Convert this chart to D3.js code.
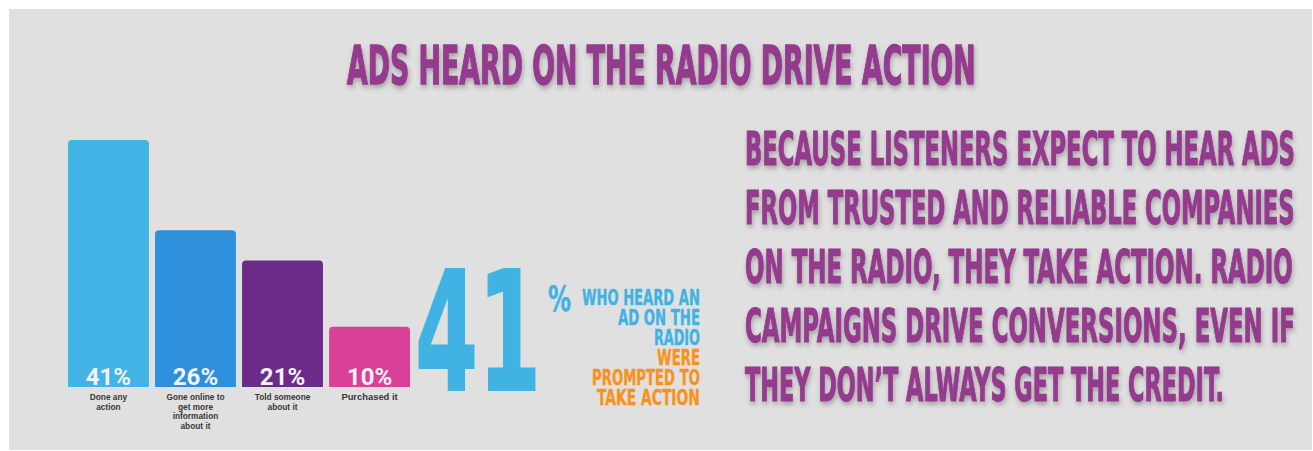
<!DOCTYPE html>
<html>
<head>
<meta charset="utf-8">
<script src="https://cdn.jsdelivr.net/npm/d3@7"></script>
<style>
  html, body { margin: 0; padding: 0; background: #ffffff; }
  svg { display: block; }
</style>
</head>
<body>
<div id="chart"></div>
<script>
// Share of radio listeners who acted after hearing an ad
const categories = ["Done any action", "Gone online to get more information about it", "Told someone about it", "Purchased it"];
const categoryLines = [["Done any", "action"], ["Gone online to", "get more", "information", "about it"], ["Told someone", "about it"], ["Purchased it"]];
const values = [41, 26, 21, 10];
const valueLabels = ["41%", "26%", "21%", "10%"];
const barColors = ["#42b4e5", "#2e90dc", "#6a2c88", "#d94198"];

const title = "ADS HEARD ON THE RADIO DRIVE ACTION";
const bodyLines = [
  "BECAUSE LISTENERS EXPECT TO HEAR ADS",
  "FROM TRUSTED AND RELIABLE COMPANIES",
  "ON THE RADIO, THEY TAKE ACTION. RADIO",
  "CAMPAIGNS DRIVE CONVERSIONS, EVEN IF",
  "THEY DON\u2019T ALWAYS GET THE CREDIT."
];
const bodyWidths = [550, 550, 548, 550, 479];
const headline = "41";
const calloutBlue = ["WHO HEARD AN", "AD ON THE", "RADIO"];
const calloutOrange = ["WERE", "PROMPTED TO", "TAKE ACTION"];
const calloutWidths = [118, 82, 46, 43, 108, 103];

const W = 1313, H = 451;
const purple = "#943a8e";
const condensed = "'Liberation Sans Narrow', 'DejaVu Sans Condensed', sans-serif";

const svg = d3.select("#chart").append("svg")
  .attr("width", W).attr("height", H);

const defs = svg.append("defs");
const shadow = defs.append("filter").attr("id", "soft-shadow")
  .attr("filterUnits", "userSpaceOnUse")
  .attr("x", 0).attr("y", 0).attr("width", W).attr("height", H);
shadow.append("feDropShadow")
  .attr("dx", 1).attr("dy", 3).attr("stdDeviation", 2.5)
  .attr("flood-color", "#000").attr("flood-opacity", 0.28);

// Draws a condensed line of text squeezed horizontally to a given width
function fitText(parent, str, left, baseline, width, size, color, strokeW) {
  const g = parent.append("g");
  const t = g.append("text")
    .attr("x", 0).attr("y", 0)
    .attr("font-family", condensed).attr("font-weight", 700).attr("font-size", size)
    .attr("fill", color)
    .attr("stroke", strokeW ? color : null).attr("stroke-width", strokeW || null)
    .text(str);
  const natural = t.node().getComputedTextLength();
  g.attr("transform", `translate(${left},${baseline}) scale(${width / natural},1)`);
  return g;
}

// panel
svg.append("rect").attr("x", 9).attr("y", 9).attr("width", W - 10).attr("height", H - 10)
  .attr("fill", "#e0e0e0");

// title
const titleG = svg.append("g").attr("filter", "url(#soft-shadow)");
fitText(titleG, title, 347, 84, 629, 54, purple, 1.4);

// bars
const x = d3.scaleBand().domain(categories).range([68, 410]).paddingInner(0.07).paddingOuter(0);
const y = d3.scaleLinear().domain([0, 41]).range([387, 140]);
const r = 4;

const bars = svg.append("g");
bars.selectAll("path").data(categories).join("path")
  .attr("fill", (d, i) => barColors[i])
  .attr("d", (d, i) => {
    const x0 = x(d), x1 = x0 + x.bandwidth(), y0 = y(0), y1 = y(values[i]);
    return `M${x0},${y0}V${y1 + r}Q${x0},${y1} ${x0 + r},${y1}H${x1 - r}Q${x1},${y1} ${x1},${y1 + r}V${y0}Z`;
  });

bars.selectAll("text.val").data(categories).join("text")
  .attr("class", "val")
  .attr("x", d => x(d) + x.bandwidth() / 2)
  .attr("y", y(0) - 2)
  .attr("text-anchor", "middle")
  .attr("font-family", "Roboto, 'Open Sans', sans-serif")
  .attr("font-weight", 700).attr("font-size", 24)
  .attr("fill", "#f2f2f2")
  .text((d, i) => valueLabels[i]);

// category names, one text per line
const cat = svg.append("g");
categories.forEach((c, i) => {
  categoryLines[i].forEach((line, j) => {
    cat.append("text")
      .attr("x", x(c) + x.bandwidth() / 2)
      .attr("y", 400 + j * 9.7)
      .attr("text-anchor", "middle")
      .attr("font-family", "'Liberation Sans', Arial, sans-serif")
      .attr("font-weight", 700)
      .attr("font-size", i === 3 ? 9.4 : 8.3)
      .attr("fill", "#383838")
      .text(line);
  });
});

// headline figure
fitText(svg, headline, 415, 390, 126, 166, "#40b3e3", 2);
fitText(svg, "%", 548, 311, 23, 36, "#40b3e3", 0.5);

const callout = calloutBlue.map(t => ({ t, c: "#40b3e3" }))
  .concat(calloutOrange.map(t => ({ t, c: "#f7931d" })));
const calloutG = svg.append("g");
callout.forEach((d, i) => {
  fitText(calloutG, d.t, 700 - calloutWidths[i], 305 + i * 20, calloutWidths[i], 21, d.c, 0.4);
});

// supporting paragraph
const bodyG = svg.append("g").attr("filter", "url(#soft-shadow)");
bodyLines.forEach((line, i) => {
  fitText(bodyG, line, 745, 165 + i * 59, bodyWidths[i], 46, purple, 1.1);
});
</script>
</body>
</html>
